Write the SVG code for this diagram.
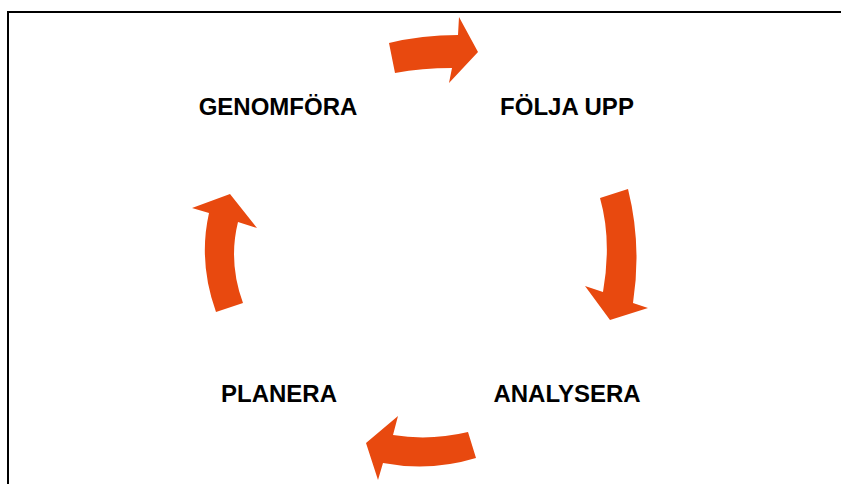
<svg xmlns="http://www.w3.org/2000/svg" width="841" height="484" viewBox="0 0 841 484">
<style>
.arrow{fill:#E8490F;stroke:none}
.lbl{font-family:"Liberation Sans",Arial,sans-serif;font-weight:bold;font-size:24px;fill:#000;text-anchor:middle}
</style>
<rect x="0" y="0" width="841" height="484" fill="#fff"/>
<rect x="8" y="12" width="850" height="490" fill="none" stroke="#000" stroke-width="2"/>
<g id="connectors">
<path class="arrow" d="M389,43 Q422,35 458,35 L459,17 L478,52 L449,83 L452,68 Q422,68 395,73 Z"/>
<path class="arrow" d="M600,198 L628,189 Q642,245 633,303 L648,308 L610,320 L585,286 L603,292 Q612,240 600,198 Z"/>
<path class="arrow" d="M468,432 Q430,441 393,435 L398,416 L366,443 L378,480 L383,463 Q430,472 476,458 Z"/>
<path class="arrow" d="M216,312 Q198,262 209,213 L192,208 L230,194 L257,228 L238,222 Q228,262 243,303 Z"/>
</g>
<g id="genomfora"><text class="lbl" x="278" y="115">GENOMFÖRA</text></g>
<g id="folja-upp"><text class="lbl" x="567" y="115">FÖLJA UPP</text></g>
<g id="analysera"><text class="lbl" x="567" y="402">ANALYSERA</text></g>
<g id="planera"><text class="lbl" x="279" y="402">PLANERA</text></g>
</svg>
